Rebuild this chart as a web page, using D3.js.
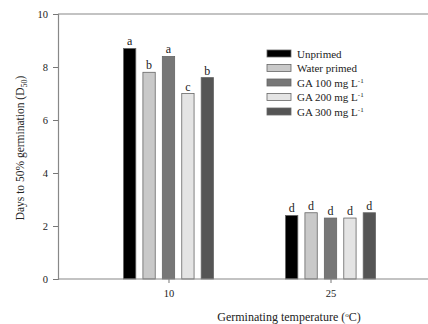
<!DOCTYPE html>
<html>
<head>
<meta charset="utf-8">
<script src="https://cdn.jsdelivr.net/npm/d3@7"></script>
<style>
  body { margin: 0; background: #fff; }
  svg text { font-family: "Liberation Serif", "DejaVu Serif", serif; fill: #222; }
</style>
</head>
<body>
<script>
// data
var temps = ["10", "25"];
var treatments = ["Unprimed", "Water primed", "GA 100 mg L", "GA 200 mg L", "GA 300 mg L"];
var supers = ["", "", "-1", "-1", "-1"];
var fills = ["#000000", "#c9c9c9", "#777777", "#e4e4e4", "#555555"];
var d50_10 = [8.7, 7.8, 8.4, 7.0, 7.6];
var d50_25 = [2.4, 2.5, 2.3, 2.3, 2.5];
var letters_10 = ["a", "b", "a", "c", "b"];
var letters_25 = ["d", "d", "d", "d", "d"];
var yTicks = [0, 2, 4, 6, 8, 10];

var W = 428, H = 324;
var plotL = 58, plotT = 14, plotB = 279, plotR = 441;

var svg = d3.select("body").append("svg").attr("width", W).attr("height", H);

var x = d3.scalePoint().domain(temps).range([plotL, plotR]).padding(0.682);
var y = d3.scaleLinear().domain([0, 10]).range([plotB, plotT]);
var inner = d3.scaleBand().domain(d3.range(treatments.length)).range([-45, 45]).paddingInner(0.366);

var rows = [];
for (var i = 0; i < treatments.length; i++) {
	rows.push({t: "10", k: i, v: d50_10[i], l: letters_10[i]});
	rows.push({t: "25", k: i, v: d50_25[i], l: letters_25[i]});
}

// top frame line
svg.append("line").attr("x1", plotL).attr("x2", W).attr("y1", plotT).attr("y2", plotT)
	.attr("stroke", "#888").attr("stroke-width", 1.2);

var g = svg.append("g");
g.selectAll("rect").data(rows).enter().append("rect")
	.attr("x", function(d){ return x(d.t) + inner(d.k); })
	.attr("y", function(d){ return y(d.v); })
	.attr("width", inner.bandwidth())
	.attr("height", function(d){ return y(0) - y(d.v); })
	.attr("fill", function(d){ return fills[d.k]; })
	.attr("stroke", "#666").attr("stroke-width", 0.8);

g.selectAll("text.lt").data(rows).enter().append("text")
	.attr("class", "lt")
	.attr("x", function(d){ return x(d.t) + inner(d.k) + inner.bandwidth() / 2; })
	.attr("y", function(d){ return y(d.v) - 3; })
	.attr("text-anchor", "middle").attr("font-size", 12)
	.text(function(d){ return d.l; });

var xAxis = svg.append("g").attr("transform", "translate(0," + plotB + ")")
	.call(d3.axisBottom(x).tickSize(4).tickPadding(7));
xAxis.select(".domain").remove();
xAxis.append("line").attr("x1", plotL).attr("x2", W).attr("stroke", "#888").attr("stroke-width", 1.2);
xAxis.selectAll(".tick line").attr("stroke", "#777");
xAxis.selectAll("text").attr("font-size", 10.5).attr("font-family", "Liberation Serif, serif").attr("fill", "#333");

var yAxis = svg.append("g").attr("transform", "translate(" + plotL + ",0)")
	.call(d3.axisLeft(y).tickValues(yTicks).tickSize(5).tickPadding(5));
yAxis.select(".domain").attr("stroke", "#888").attr("stroke-width", 1.2);
yAxis.selectAll(".tick line").attr("stroke", "#777");
yAxis.selectAll("text").attr("font-size", 10.5).attr("font-family", "Liberation Serif, serif").attr("fill", "#333");

// axis titles
var yt = svg.append("text").attr("transform", "translate(24,148) rotate(-90)")
	.attr("text-anchor", "middle").attr("font-size", 11.5);
yt.append("tspan").text("Days to 50% germination (D");
yt.append("tspan").attr("font-size", 8).attr("dy", 3).text("50");
yt.append("tspan").attr("dy", -3).text(")");

var xt = svg.append("text").attr("x", 289).attr("y", 321)
	.attr("text-anchor", "middle").attr("font-size", 12);
xt.append("tspan").text("Germinating temperature (");
xt.append("tspan").attr("font-size", 7).attr("dy", -4).text("o");
xt.append("tspan").attr("dy", 4).text("C)");

// legend
var leg = svg.append("g").attr("transform", "translate(267,50)");
var item = leg.selectAll("g").data(treatments).enter().append("g")
	.attr("transform", function(d, i){ return "translate(0," + (i * 14.5) + ")"; });
item.append("rect").attr("width", 24).attr("height", 7)
	.attr("fill", function(d, i){ return fills[i]; })
	.attr("stroke", "#666").attr("stroke-width", 0.8);
var lt = item.append("text").attr("x", 30).attr("y", 7.5).attr("font-size", 11);
lt.append("tspan").text(function(d){ return d; });
lt.append("tspan").attr("font-size", 7).attr("dy", -4).text(function(d, i){ return supers[i]; });
</script>
</body>
</html>
